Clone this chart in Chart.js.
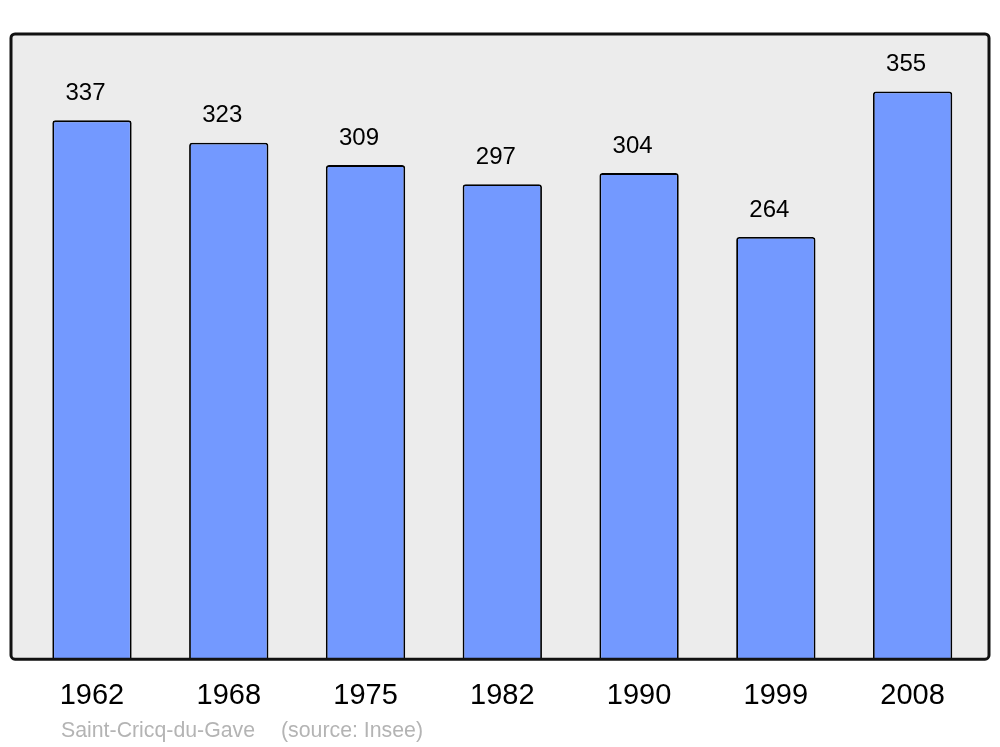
<!DOCTYPE html>
<html>
<head>
<meta charset="utf-8">
<script src="https://cdn.jsdelivr.net/npm/chart.js@4"></script>
<style>
  html, body { margin: 0; padding: 0; background: #fff; }
  #wrap { width: 1000px; height: 747px; }
</style>
</head>
<body>
<div id="wrap"><canvas id="popChart" width="1000" height="747"></canvas></div>
<script>
// Population data (Saint-Cricq-du-Gave)
const years = ['1962', '1968', '1975', '1982', '1990', '1999', '2008'];
const population = [337, 323, 309, 297, 304, 264, 355];
const yMax = 391;
const placeName = 'Saint-Cricq-du-Gave';
const sourceName = '(source: Insee)';

// grey panel behind the bars, border drawn on top
const panelPlugin = {
    id: 'panel',
    beforeDatasetsDraw(chart) {
        const { ctx, chartArea } = chart;
        ctx.save();
        ctx.beginPath();
        ctx.roundRect(chartArea.left - 12.6, chartArea.top, chartArea.right - chartArea.left + 20.6, chartArea.bottom - chartArea.top, 4);
        ctx.fillStyle = '#ececec';
        ctx.fill();
        ctx.restore();
    },
    afterDatasetsDraw(chart) {
        const { ctx, chartArea } = chart;
        ctx.save();
        ctx.beginPath();
        ctx.roundRect(chartArea.left - 12.6, chartArea.top, chartArea.right - chartArea.left + 20.6, chartArea.bottom - chartArea.top, 4);
        ctx.lineWidth = 3;
        ctx.strokeStyle = '#111';
        ctx.stroke();

        // value labels above bars
        ctx.font = '24px "Liberation Sans", Arial, sans-serif';
        ctx.fillStyle = '#000';
        ctx.textAlign = 'center';
        ctx.textBaseline = 'middle';
        chart.getDatasetMeta(0).data.forEach((bar, i) => {
            ctx.fillText(population[i], bar.x - 6.5, bar.y - 27);
        });

        // source line
        ctx.font = '21.3px "Liberation Sans", Arial, sans-serif';
        ctx.fillStyle = '#b4b4b4';
        ctx.textAlign = 'left';
        ctx.fillText(placeName, 61, 731);
        ctx.fillText(sourceName, 281, 731);
        ctx.restore();
    }
};

const ctx = document.getElementById('popChart').getContext('2d');
new Chart(ctx, {
    type: 'bar',
    data: {
        labels: years,
        datasets: [{
            data: population,
            backgroundColor: '#7399ff',
            borderColor: '#000',
            borderWidth: 1.8,
            borderSkipped: 'bottom',
            borderRadius: { topLeft: 3, topRight: 3 },
            barPercentage: 0.58,
            categoryPercentage: 1
        }]
    },
    options: {
        responsive: false,
        animation: false,
        devicePixelRatio: 1,
        layout: { padding: { left: 23.6, right: 19, top: 34, bottom: 15 } },
        plugins: {
            legend: { display: false },
            tooltip: { enabled: false }
        },
        scales: {
            x: {
                grid: { display: false, drawTicks: false },
                border: { display: false },
                ticks: {
                    color: '#000',
                    padding: 19,
                    font: { family: '"Liberation Sans", Arial, sans-serif', size: 29 }
                }
            },
            y: {
                display: false,
                min: 0,
                max: yMax
            }
        }
    },
    plugins: [panelPlugin]
});
</script>
</body>
</html>
